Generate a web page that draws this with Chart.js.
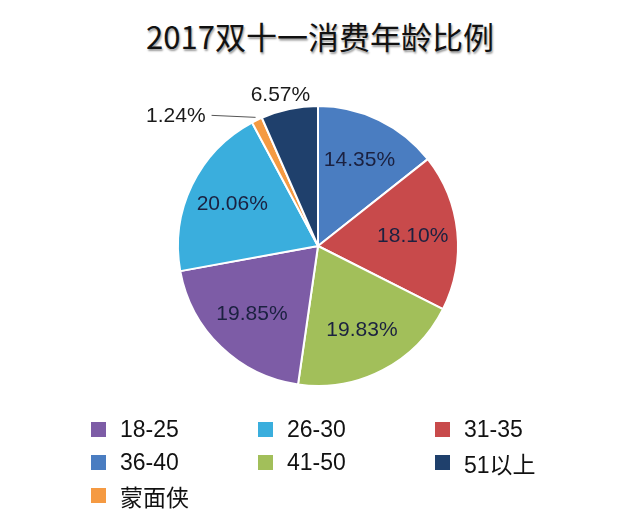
<!DOCTYPE html>
<html lang="zh">
<head>
<meta charset="utf-8">
<title>2017双十一消费年龄比例</title>
<style>
  * { margin: 0; padding: 0; box-sizing: border-box; }
  body { width: 640px; height: 532px; background: #fff; position: relative; overflow: hidden;
         font-family: "Liberation Sans", "Noto Sans CJK SC", sans-serif; }
  #title { position: absolute; left: 0; top: 14px; width: 640px; text-align: center;
           font-family: "Noto Sans CJK SC", sans-serif; font-size: 31px; font-weight: 400; color: #111;
           text-shadow: 1px 2px 2px rgba(0,0,0,0.4); line-height: 44px; }
  #wrap { position: absolute; left: 0; top: 0; width: 640px; height: 532px; }
  #legend { position: absolute; left: 91px; top: 413px; display: grid;
            grid-template-columns: 167px 177px 160px; grid-auto-rows: 33px; }
  .item { display: flex; align-items: center; font-size: 23px; color: #111; }
  .box { width: 15px; height: 15px; margin-right: 14px; flex: none; }
</style>
</head>
<body>
<div id="title">2017双十一消费年龄比例</div>
<div id="wrap"><canvas id="pie" width="640" height="532"></canvas></div>
<div id="legend"></div>
<script src="https://cdn.jsdelivr.net/npm/chart.js@4.4.1/dist/chart.umd.min.js"></script>
<script>
// slices clockwise from 12 o'clock
const ages = ["36-40", "31-35", "41-50", "18-25", "26-30", "蒙面侠", "51以上"];
const shares = [14.35, 18.10, 19.83, 19.85, 20.06, 1.24, 6.57];
const colors = ["#4a7dc1", "#c84a4b", "#a2bf5a", "#7d5ca6", "#3aaedd", "#f59a42", "#1f406c"];
const legendOrder = ["18-25", "26-30", "31-35", "36-40", "41-50", "51以上", "蒙面侠"];

// percentage labels, small slices get pulled outside
const pctLabels = {
  id: "pctLabels",
  afterDatasetsDraw(chart) {
    const ctx = chart.ctx;
    const meta = chart.getDatasetMeta(0);
    ctx.save();
    ctx.font = "21px 'Liberation Sans', Arial, sans-serif";
    ctx.textBaseline = "middle";
    meta.data.forEach((arc, i) => {
      const { x, y, startAngle, endAngle, outerRadius } = arc.getProps(["x", "y", "startAngle", "endAngle", "outerRadius"], true);
      const mid = (startAngle + endAngle) / 2;
      const txt = shares[i].toFixed(2) + "%";
      if (shares[i] >= 10) {
        const r = outerRadius * 0.68;
        ctx.fillStyle = "#1b2140";
        ctx.textAlign = "center";
        ctx.fillText(txt, x + Math.cos(mid) * r, y + Math.sin(mid) * r);
      } else if (shares[i] >= 5) {
        const r = outerRadius * 1.1;
        ctx.fillStyle = "#1a1a1a";
        ctx.textAlign = "center";
        ctx.fillText(txt, x + Math.cos(mid) * r - 6, y + Math.sin(mid) * r);
      } else {
        const x0 = x + Math.cos(mid) * (outerRadius + 3);
        const y0 = y + Math.sin(mid) * (outerRadius + 3);
        const x1 = x0 - 44;
        const y1 = y0 - 2;
        ctx.strokeStyle = "#555";
        ctx.lineWidth = 1;
        ctx.beginPath();
        ctx.moveTo(x0, y0);
        ctx.lineTo(x1, y1);
        ctx.stroke();
        ctx.fillStyle = "#1a1a1a";
        ctx.textAlign = "right";
        ctx.fillText(txt, x1 - 6, y1 + 1);
      }
    });
    ctx.restore();
  }
};

new Chart(document.getElementById("pie"), {
  type: "pie",
  plugins: [pctLabels],
  data: {
    labels: ages,
    datasets: [{
      data: shares,
      backgroundColor: colors,
      borderColor: "#ffffff",
      borderWidth: 2
    }]
  },
  options: {
    responsive: false,
    animation: false,
    layout: { padding: { left: 177, right: 181, top: 105, bottom: 145 } },
    plugins: { legend: { display: false }, tooltip: { enabled: false } }
  }
});

const legend = document.getElementById("legend");
legendOrder.forEach(name => {
  const i = ages.indexOf(name);
  const el = document.createElement("div");
  el.className = "item";
  el.innerHTML = '<span class="box" style="background:' + colors[i] + '"></span><span>' + name + "</span>";
  legend.appendChild(el);
});
</script>
</body>
</html>
